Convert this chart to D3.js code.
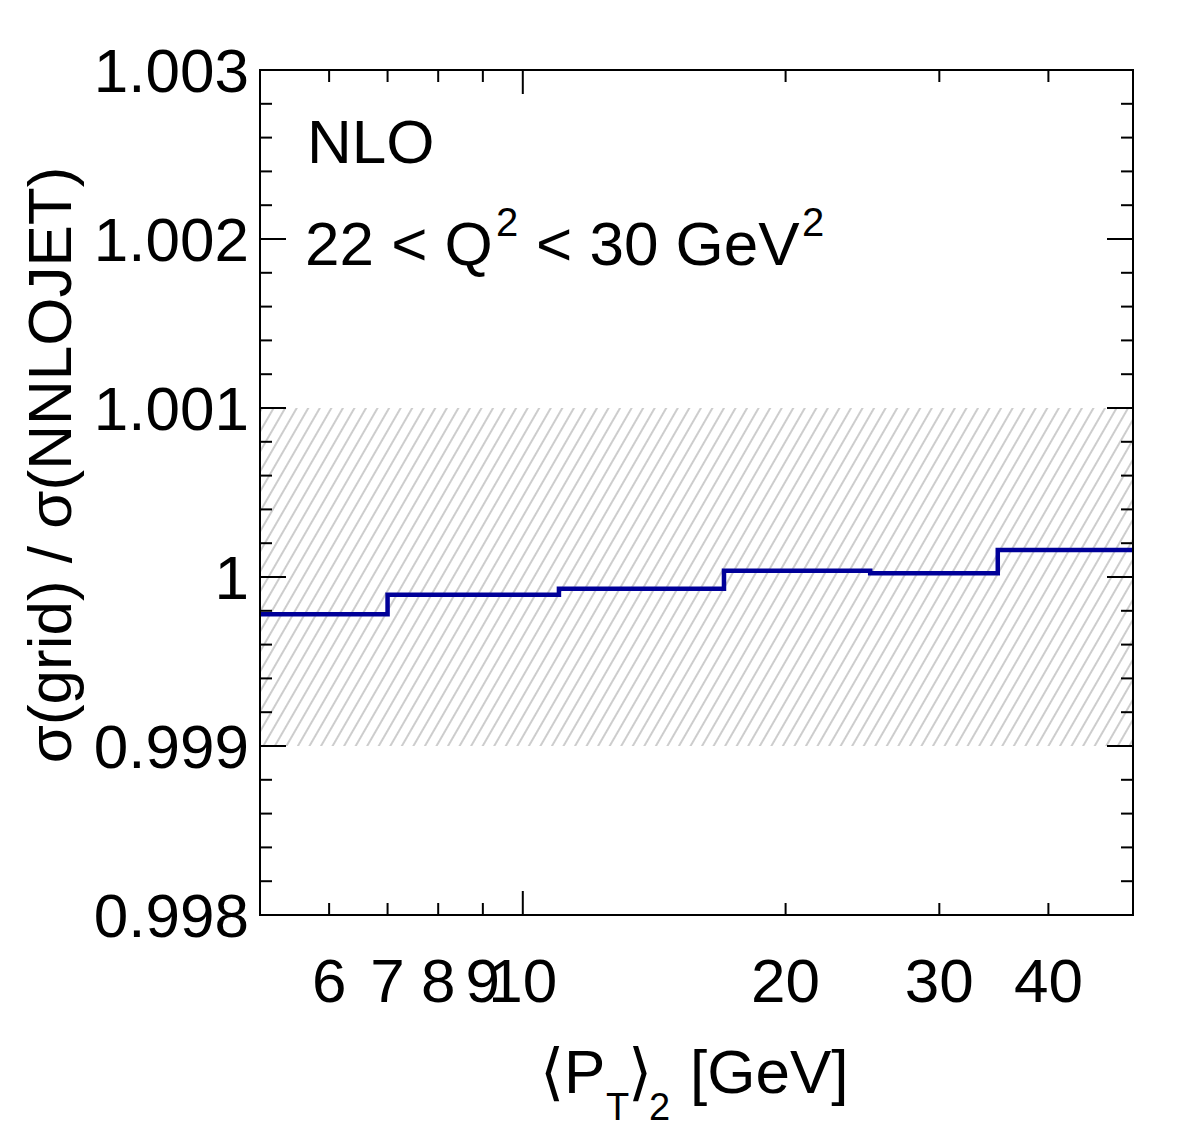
<!DOCTYPE html>
<html>
<head>
<meta charset="utf-8">
<script src="https://cdn.jsdelivr.net/npm/d3@7"></script>
<style>
  html, body { margin: 0; padding: 0; background: #fff; }
  svg { display: block; font-family: "Liberation Sans", Arial, Helvetica, sans-serif; }
</style>
</head>
<body>
<svg id="chart" width="1182" height="1146"></svg>
<script>
// ---- data ----
const binEdges = [5, 7, 11, 17, 25, 35, 50];
const ratioValues = [0.99978, 0.999895, 0.99993, 1.000037, 1.000022, 1.00016];
const bandRange = [0.999, 1.001];
const yMajorTicks = [0.998, 0.999, 1.000, 1.001, 1.002, 1.003];
const yTickLabels = ["0.998", "0.999", "1", "1.001", "1.002", "1.003"];
const xLabelTicks = [6, 7, 8, 9, 10, 20, 30, 40];
const xMajorTicks = [10];

// ---- layout ----
const L = 260, R = 1133, T = 70, B = 915;
const FS = 62;
const svg = d3.select("#chart");
const x = d3.scaleLog().domain([5, 50]).range([L, R]);
const y = d3.scaleLinear().domain([0.998, 1.003]).range([B, T]);

// hatch pattern
const defs = svg.append("defs");
const pat = defs.append("pattern")
  .attr("id", "hatch").attr("patternUnits", "userSpaceOnUse")
  .attr("width", 10).attr("height", 10)
  .attr("patternTransform", "rotate(30)");
pat.append("line").attr("x1", 1).attr("y1", 0).attr("x2", 1).attr("y2", 10)
  .attr("stroke", "#b8b8b8").attr("stroke-width", 1.4);

svg.append("rect")
  .attr("x", L).attr("width", R - L)
  .attr("y", y(bandRange[1])).attr("height", y(bandRange[0]) - y(bandRange[1]))
  .attr("fill", "url(#hatch)");

// step histogram
const pts = binEdges.map((e, i) => [e, ratioValues[Math.min(i, ratioValues.length - 1)]]);
const line = d3.line().x(d => x(d[0])).y(d => y(d[1])).curve(d3.curveStepAfter);
svg.append("path").attr("d", line(pts))
  .attr("fill", "none").attr("stroke", "#000099").attr("stroke-width", 4.5);

// y ticks (major + minor), both sides
const yMinor = d3.range(0, 26).map(i => 0.998 + i * 0.0002)
  .filter(v => !yMajorTicks.some(m => Math.abs(m - v) < 1e-9));
const axisG = svg.append("g").attr("stroke", "#000").attr("stroke-width", 2);
function yTicks(vals, len) {
  vals.forEach(v => {
    axisG.append("line").attr("x1", L).attr("x2", L + len).attr("y1", y(v)).attr("y2", y(v));
    axisG.append("line").attr("x1", R).attr("x2", R - len).attr("y1", y(v)).attr("y2", y(v));
  });
}
yTicks(yMajorTicks, 26);
yTicks(yMinor, 12);

// x ticks (log), bottom and top
xLabelTicks.forEach(v => {
  const len = xMajorTicks.includes(v) ? 24 : 12;
  axisG.append("line").attr("x1", x(v)).attr("x2", x(v)).attr("y1", B).attr("y2", B - len);
  axisG.append("line").attr("x1", x(v)).attr("x2", x(v)).attr("y1", T).attr("y2", T + len);
});

// frame
svg.append("rect").attr("x", L).attr("y", T).attr("width", R - L).attr("height", B - T)
  .attr("fill", "none").attr("stroke", "#000").attr("stroke-width", 2);

// y tick labels
svg.append("g").selectAll("text").data(yMajorTicks).join("text")
  .attr("x", 249).attr("y", d => y(d) + 22)
  .attr("text-anchor", "end").attr("font-size", FS)
  .text((d, i) => yTickLabels[i]);

// x tick labels
svg.append("g").selectAll("text").data(xLabelTicks).join("text")
  .attr("x", d => x(d)).attr("y", 1002)
  .attr("text-anchor", "middle").attr("font-size", FS)
  .text(d => String(d));

// y axis title
svg.append("text")
  .attr("transform", "translate(71,465) rotate(-90)")
  .attr("text-anchor", "middle").attr("font-size", FS)
  .text("σ(grid) / σ(NNLOJET)");

// x axis title
const xt = svg.append("text").attr("y", 1093).attr("font-size", FS);
xt.append("tspan").attr("x", 540).text("⟨P");
xt.append("tspan").attr("x", 606).attr("dy", 27).attr("font-size", 38).text("T");
xt.append("tspan").attr("x", 628).attr("dy", -27).text("⟩");
xt.append("tspan").attr("x", 649).attr("dy", 27).attr("font-size", 38).text("2");
xt.append("tspan").attr("x", 690).attr("dy", -27).text("[GeV]");

// annotations
svg.append("text").attr("x", 307).attr("y", 163).attr("font-size", FS).text("NLO");
const q = svg.append("text").attr("y", 265).attr("font-size", FS);
q.append("tspan").attr("x", 305).text("22 < Q");
q.append("tspan").attr("x", 496).attr("dy", -29).attr("font-size", 40).text("2");
q.append("tspan").attr("x", 536).attr("dy", 29).text("< 30 GeV");
q.append("tspan").attr("x", 802).attr("dy", -29).attr("font-size", 40).text("2");
</script>
</body>
</html>
